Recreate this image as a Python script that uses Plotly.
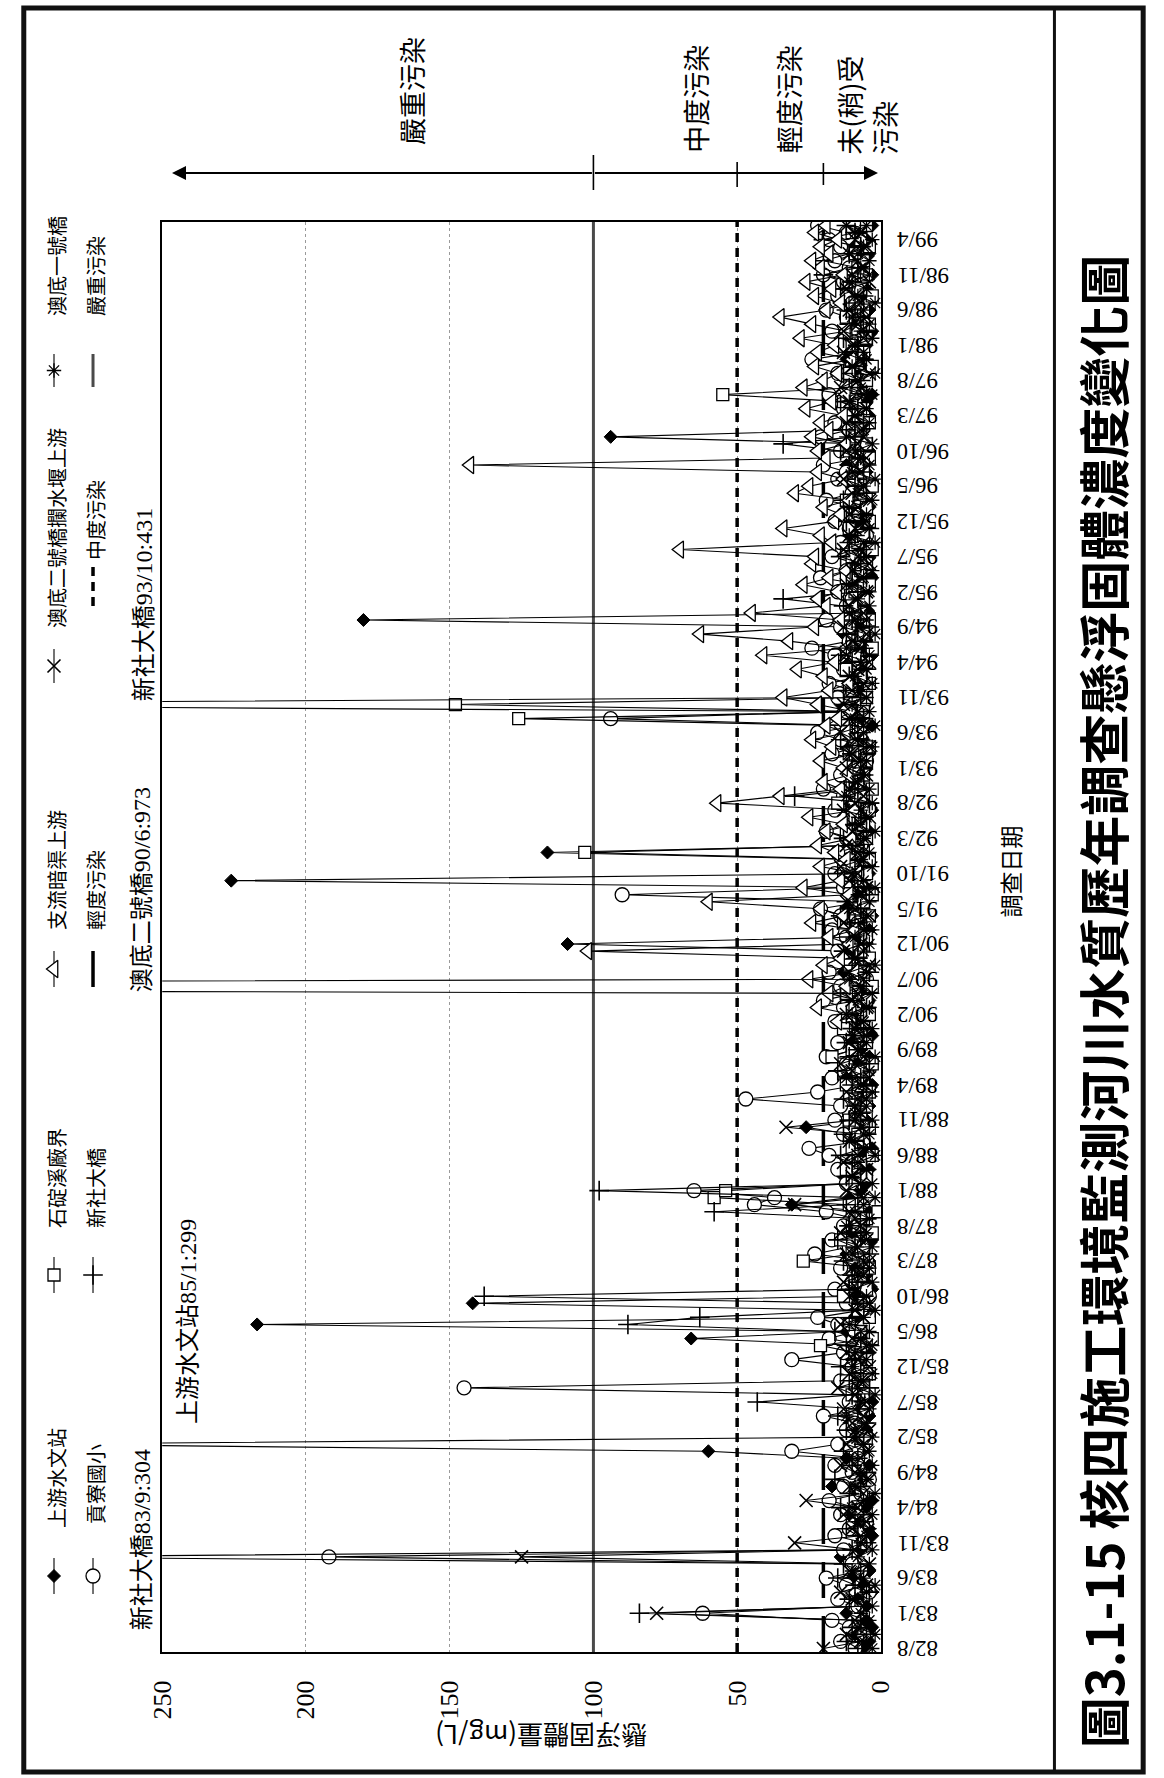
import plotly.graph_objects as go

W, H = 1164, 1778
CJK = "Noto Sans CJK TC"
SERIF = "Liberation Serif, Noto Sans CJK TC"

# ---- survey months (ROC calendar), one category per month: 82/8 ... 99/6 ----
months = []
yy, mm = 82, 8
while (yy, mm) <= (99, 6):
    months.append(f"{yy}/{mm}")
    yy, mm = (yy + 1, 1) if mm == 12 else (yy, mm + 1)
month_pos = list(range(len(months)))

tick_labels = ["82/8", "83/1", "83/6", "83/11", "84/4", "84/9", "85/2", "85/7",
               "85/12", "86/5", "86/10", "87/3", "87/8", "88/1", "88/6", "88/11",
               "89/4", "89/9", "90/2", "90/7", "90/12", "91/5", "91/10", "92/3",
               "92/8", "93/1", "93/6", "93/11", "94/4", "94/9", "95/2", "95/7",
               "95/12", "96/5", "96/10", "97/3", "97/8", "98/1", "98/6", "98/11",
               "99/4"]
value_ticks = [0, 50, 100, 150, 200, 250]

N_ = None
# ---- suspended solids (mg/L), one row per year ----
ss_shangyou = [
    6, 4, 9, 3, 5,
    12, 5, 8, 3, 6, 10, 4, 9, 14, 7, 5, 3,
    4, 7, 11, 5, 3, 8, 17, 6, 9, 4, 12, 60,
    299, 8, 5, 11, 4, 7, 3, 9, 6, 14, 5, 8,
    10, 4, 7, 66, 12, 217, 9, 5, 142, 8, 3, 6,
    5, 9, 4, 12, 7, 3, 10, 6, 8, 4, 31, 11,
    7, 5, 13, 4, 9, 6, 3, 8, 11, 26, 5, 10,
    4, 9, 6, 3, 12, 5, 8, 4, 7, 10, 3, 6,
    8, 5, 11, 4, 7, 3, 9, 13, 6, 4, 10, 109,
    7, 4, 9, 3, 12, 6, 8, 5, 226, 4, 7, 10,
    116, 6, 10, 4, 8, 5, 3, 11, 7, 4, 9, 6,
    5, 8, 4, 12, 6, 9, 3, 7, 10, 14, 5, 8,
    4, 9, 6, 11, 3, 7, 5, 13, 8, 180, 4, 6,
    10, 5, 8, 3, 12, 6, 4, 9, 7, 11, 5, 8,
    6, 4, 10, 7, 3, 9, 5, 12, 8, 4, 6, 94,
    7, 11, 4, 8, 5, 3, 10, 6, 9, 4, 12, 7,
    5, 8, 3, 10, 6, 4, 9, 7, 5, 11, 3, 8,
    6, 4, 9, 5, 7, 3,
]
ss_gongliao = [
    9, 14, 6, 11, 17,
    62, 8, 15, 4, 12, 19, 7, 10, 192, 13, 6, 16,
    11, 5, 14, 9, 18, 7, 13, 4, 10, 16, 8, 31,
    15, 6, 12, 9, 20, 5, 11, 8, 145, 14, 7, 10,
    31, 13, 6, 18, 9, 15, 22, 7, 12, 4, 16, 10,
    8, 14, 5, 23, 11, 17, 6, 13, 9, 19, 44, 37,
    65, 12, 7, 15, 10, 18, 25, 6, 13, 9, 16, 11,
    14, 47, 22, 8, 17, 5, 12, 19, 9, 15, 7, 11,
    16, 6, 13, 20, 9, 14, 5, 18, 11, 7, 15, 10,
    12, 17, 8, 14, 21, 6, 90, 13, 9, 16, 5, 11,
    15, 7, 12, 19, 10, 6, 16, 9, 13, 20, 8, 14,
    11, 5, 17, 8, 14, 22, 9, 94, 12, 6, 15, 10,
    18, 7, 13, 9, 16, 24, 11, 6, 14, 19, 8, 12,
    10, 15, 6, 21, 12, 8, 17, 9, 14, 5, 11, 16,
    13, 8, 19, 10, 6, 15, 12, 20, 7, 14, 9, 21,
    11, 16, 6, 13, 9, 18, 12, 7, 15, 10, 24, 8,
    14, 9, 17, 6, 12, 19, 10, 15, 8, 13, 20, 11,
    16, 9, 14, 18, 12, 22,
]
ss_shiding = [
    N_, N_, N_, N_, N_,
    N_, N_, N_, N_, N_, N_, N_, N_, N_, N_, N_, N_,
    N_, N_, N_, N_, N_, N_, N_, N_, N_, N_, N_, N_,
    N_, N_, N_, N_, N_, N_, N_, 10, 6, 12, 4, 8,
    5, 9, 21, 3, 7, 11, 4, 8, 6, 13, 5, 9,
    7, 4, 27, 10, 6, 14, 3, 8, 5, 1, 11, 58,
    54, 9, 5, 12, 7, 3, 10, 6, 8, 4, 11, 7,
    5, 9, 4, 12, 6, 8, 3, 17, 10, 5, 7, 13,
    6, 4, 9, 5, 12, 3, 8, 6, 11, 4, 7, 10,
    5, 8, 13, 4, 9, 6, 3, 11, 7, 5, 10, 4,
    103, 8, 5, 12, 6, 9, 4, 15, 7, 3, 10, 6,
    8, 5, 11, 4, 9, 7, 12, 126, 6, 148, 5, 10,
    4, 7, 12, 5, 9, 3, 8, 6, 11, 4, 7, 10,
    6, 9, 4, 12, 7, 5, 10, 3, 8, 6, 11, 4,
    9, 5, 12, 7, 3, 10, 6, 8, 4, 11, 5, 9,
    7, 4, 10, 6, 13, 55, 8, 5, 11, 3, 9, 6,
    10, 5, 8, 4, 12, 6, 9, 3, 7, 11, 5, 8,
    6, 9, 4, 7, 10, 5,
]
ss_xinshe = [
    8, 12, 5, 10, 7,
    84, 6, 11, 4, 9, 15, 7, 13, 304, 10, 5, 8,
    12, 6, 9, 14, 4, 11, 7, 16, 5, 10, 8, 13,
    6, 9, 12, 5, 15, 8, 43, 10, 4, 11, 7, 14,
    9, 5, 12, 7, 16, 88, 63, 10, 6, 138, 11, 8,
    10, 6, 13, 4, 9, 15, 7, 11, 5, 58, 12, 8,
    98, 7, 12, 5, 10, 14, 6, 9, 13, 4, 11, 7,
    9, 13, 5, 10, 7, 15, 4, 11, 8, 12, 6, 10,
    7, 12, 5, 9, 14, 6, 11, 4, 10, 8, 13, 6,
    11, 5, 9, 14, 7, 12, 4, 10, 8, 15, 6, 9,
    6, 10, 13, 5, 9, 7, 12, 4, 30, 8, 11, 6,
    12, 7, 10, 5, 14, 8, 11, 6, 9, 431, 7, 13,
    8, 11, 5, 10, 14, 6, 9, 12, 4, 10, 7, 13,
    34, 8, 12, 5, 10, 7, 14, 6, 11, 9, 4, 12,
    7, 10, 13, 5, 9, 12, 6, 11, 8, 14, 34, 9,
    12, 6, 10, 8, 14, 5, 11, 7, 13, 9, 6, 10,
    8, 13, 5, 11, 7, 12, 9, 6, 14, 10, 20, 8,
    20, 11, 7, 20, 9, 12,
]
ss_zhiliu = [
    N_, N_, N_, N_, N_,
    N_, N_, N_, N_, N_, N_, N_, N_, N_, N_, N_, N_,
    N_, N_, N_, N_, N_, N_, N_, N_, N_, N_, N_, N_,
    N_, N_, N_, N_, N_, N_, N_, N_, N_, N_, N_, N_,
    N_, N_, N_, N_, N_, N_, N_, N_, N_, N_, N_, N_,
    N_, N_, N_, N_, N_, N_, N_, N_, N_, N_, N_, N_,
    N_, N_, N_, N_, N_, N_, N_, N_, N_, N_, N_, N_,
    N_, N_, N_, N_, N_, N_, N_, N_, N_, N_, N_, N_,
    15, 10, 22, 8, 18, 12, 25, 9, 20, 14, 102, 11,
    18, 9, 24, 13, 21, 60, 11, 27, 14, 8, 21, 12,
    16, 22, 10, 19, 13, 25, 9, 57, 35, 14, 20, 11,
    13, 21, 9, 17, 24, 12, 19, 15, 10, 22, 34, 18,
    11, 20, 29, 16, 41, 12, 32, 63, 23, 14, 45, 19,
    22, 15, 27, 18, 12, 24, 23, 70, 17, 21, 34, 16,
    14, 20, 11, 30, 25, 13, 22, 143, 19, 22, 12, 24,
    18, 21, 13, 26, 17, 12, 27, 20, 15, 23, 10, 22,
    16, 28, 12, 24, 35, 19, 14, 23, 17, 26, 13, 21,
    24, 18, 21, 15, 23, 19,
]
ss_aodi2 = [
    20, 7, 12, 5, 9,
    78, 6, 10, 14, 5, 8, 11, 4, 125, 9, 30, 7,
    10, 5, 13, 8, 26, 6, 11, 4, 9, 14, 7, 5,
    12, 8, 4, 10, 6, 13, 5, 9, 15, 7, 11, 4,
    8, 12, 5, 10, 7, 14, 6, 9, 4, 11, 8, 13,
    6, 10, 4, 12, 8, 5, 14, 7, 9, 11, 30, 6,
    12, 7, 10, 5, 13, 8, 4, 11, 6, 33, 9, 7,
    9, 5, 12, 7, 4, 10, 14, 6, 8, 11, 5, 9,
    7, 12, 5, 10, 8, 973, 6, 11, 4, 9, 13, 7,
    10, 6, 13, 4, 9, 12, 7, 5, 11, 8, 14, 6,
    8, 12, 5, 10, 7, 4, 13, 9, 6, 11, 8, 5,
    12, 7, 10, 4, 9, 14, 6, 11, 8, 13, 5, 10,
    6, 11, 8, 4, 12, 7, 10, 5, 13, 9, 6, 11,
    9, 5, 12, 7, 10, 4, 8, 13, 6, 11, 9, 5,
    11, 8, 4, 10, 6, 13, 7, 9, 5, 12, 8, 6,
    7, 12, 9, 5, 11, 6, 14, 8, 4, 10, 7, 13,
    10, 6, 13, 8, 5, 11, 7, 9, 12, 4, 10, 6,
    8, 11, 5, 9, 7, 12,
]
ss_aodi1 = [
    3, 6, 2, 8, 4,
    7, 3, 9, 5, 2, 6, 10, 4, 8, 3, 7, 5,
    4, 8, 3, 10, 6, 2, 9, 5, 7, 3, 11, 4,
    6, 3, 9, 5, 12, 4, 7, 2, 8, 6, 3, 10,
    5, 9, 3, 7, 4, 11, 6, 2, 8, 5, 10, 3,
    8, 4, 6, 10, 3, 7, 5, 12, 4, 9, 6, 2,
    7, 3, 10, 5, 8, 2, 6, 11, 4, 7, 3, 9,
    5, 8, 3, 6, 12, 4, 9, 2, 7, 5, 10, 3,
    6, 10, 4, 8, 3, 7, 11, 5, 2, 9, 6, 4,
    9, 3, 7, 5, 11, 4, 8, 2, 6, 10, 3, 7,
    4, 8, 6, 2, 10, 5, 7, 3, 12, 4, 9, 6,
    7, 5, 11, 3, 8, 6, 2, 9, 4, 10, 5, 8,
    3, 9, 5, 7, 4, 12, 6, 2, 8, 5, 11, 4,
    8, 4, 10, 6, 3, 9, 5, 7, 2, 11, 4, 6,
    5, 11, 3, 8, 6, 2, 10, 4, 7, 9, 3, 12,
    6, 4, 9, 5, 11, 3, 7, 8, 2, 10, 5, 6,
    9, 3, 7, 4, 10, 6, 2, 8, 5, 11, 4, 7,
    4, 8, 6, 3, 9, 5,
]

# pollution class limits (mg/L)
thresholds = [20, 50, 100]
threshold_names = ["輕度污染", "中度污染", "嚴重污染"]

LW = 1.3
series = [
    ("上游水文站", ss_shangyou, dict(symbol="diamond", size=10, color="black",
                                 line=dict(color="black", width=1))),
    ("貢寮國小", ss_gongliao, dict(symbol="circle", size=14, color="white",
                               line=dict(color="black", width=LW))),
    ("石碇溪廠界", ss_shiding, dict(symbol="square", size=12, color="white",
                                line=dict(color="black", width=LW))),
    ("新社大橋", ss_xinshe, dict(symbol="cross-thin", size=14, color="black",
                             line=dict(color="black", width=1.6))),
    ("支流暗渠上游", ss_zhiliu, dict(symbol="triangle-left", size=15, color="white",
                                line=dict(color="black", width=LW))),
    ("澳底二號橋攔水堰上游", ss_aodi2, dict(symbol="x-thin", size=13, color="black",
                                   line=dict(color="black", width=1.6))),
    ("澳底一號橋", ss_aodi1, dict(symbol="asterisk", size=12, color="black",
                              line=dict(color="black", width=1.3))),
]
threshold_styles = [
    dict(color="black", width=3.5, dash="36px,18px"),
    dict(color="black", width=3.5, dash="9px,6px"),
    dict(color="#4a4a4a", width=3),
]

fig = go.Figure()

# class limit lines across the whole period
for lim, name, st in zip(thresholds, threshold_names, threshold_styles):
    fig.add_trace(go.Scatter(x=[lim, lim], y=[-0.5, len(months) - 0.5], mode="lines",
                             name=name, line=st, hoverinfo="skip"))

for name, vals, mk in series:
    fig.add_trace(go.Scatter(x=vals, y=month_pos, mode="lines+markers", name=name,
                             line=dict(color="black", width=1.1), marker=mk,
                             connectgaps=False, cliponaxis=True,
                             customdata=months,
                             hovertemplate="%{customdata}: %{x}<extra>" + name + "</extra>"))

# ---- hand-placed legend (vertical samples, text read bottom-to-top) ----
legend_layout = [
    # name, column x, sample top, sample bottom, text bottom
    ("上游水文站", 40, 1558, 1594, 1530),
    ("石碇溪廠界", 40, 1257, 1293, 1230),
    ("支流暗渠上游", 40, 951, 987, 932),
    ("澳底二號橋攔水堰上游", 40, 649, 683, 630),
    ("澳底一號橋", 40, 354, 387, 318),
    ("貢寮國小", 80, 1558, 1594, 1526),
    ("新社大橋", 80, 1257, 1293, 1230),
    ("輕度污染", 80, 951, 987, 932),
    ("中度污染", 80, 567, 608, 562),
    ("嚴重污染", 80, 354, 387, 318),
]
markers = {n: m for n, _, m in series}
thr_style = dict(zip(threshold_names, threshold_styles))

annotations = []


def note(text, x, y, size, angle=-90, family=CJK, xanchor="center", yanchor="bottom",
         xref="x2", yref="y2", **kw):
    annotations.append(dict(text=text, x=x, y=y, xref=xref, yref=yref, showarrow=False,
                            textangle=angle, xanchor=xanchor, yanchor=yanchor,
                            font=dict(family=family, size=size, color="black"), **kw))


for name, cx, top, bot, tb in legend_layout:
    if name in markers:
        fig.add_trace(go.Scatter(x=[cx, cx], y=[top, bot], xaxis="x2", yaxis="y2",
                                 mode="lines", line=dict(color="black", width=1.1),
                                 hoverinfo="skip", showlegend=False))
        fig.add_trace(go.Scatter(x=[cx], y=[(top + bot) / 2], xaxis="x2", yaxis="y2",
                                 mode="markers", marker=markers[name],
                                 hoverinfo="skip", showlegend=False))
    else:
        fig.add_trace(go.Scatter(x=[cx, cx], y=[top, bot], xaxis="x2", yaxis="y2",
                                 mode="lines", line=thr_style[name],
                                 hoverinfo="skip", showlegend=False))
    note(name, cx + 2, tb, 20)

# ---- month labels, printed upside down beside the date axis ----
for lbl in tick_labels:
    note(lbl, 903 / W, months.index(lbl), 23, angle=180, family="Liberation Serif",
         xanchor="left", yanchor="middle", xref="paper", yref="y")

# ---- peak values beyond the axis maximum ----
peaks = [("新社大橋", ss_xinshe, "83/9", 130, 1632),
         ("上游水文站", ss_shangyou, "85/1", 177, 1426),
         ("澳底二號橋", ss_aodi2, "90/6", 130, 994),
         ("新社大橋", ss_xinshe, "93/10", 132, 703)]
for label, vals, m, px, py in peaks:
    note(f"{label}{m}:{vals[months.index(m)]}", px, py, 24, family=SERIF)

# ---- pollution class scale above the plot ----
note("嚴重污染", 406, 147, 27)
note("中度污染", 697, 155, 27)
note("輕度污染", 793, 155, 27)
note("未(稍)受<br>污染", 873, 157, 27, align="left")

annotations.append(dict(x=246.6, y=173, ax=100, ay=173, xref="x", yref="y2",
                        axref="x", ayref="y2", showarrow=True, arrowhead=2,
                        arrowsize=1.4, arrowwidth=2, arrowcolor="black", text=""))
annotations.append(dict(x=1.0, y=173, ax=100, ay=173, xref="x", yref="y2",
                        axref="x", ayref="y2", showarrow=True, arrowhead=2,
                        arrowsize=1.4, arrowwidth=2, arrowcolor="black", text=""))

shapes = []
for lim, (y0, y1) in zip(thresholds, [(163, 185), (162, 187), (155, 190)]):
    shapes.append(dict(type="line", xref="x", yref="y2", x0=lim, x1=lim, y0=y0, y1=y1,
                       line=dict(color="black", width=1.6)))

# ---- axis titles ----
note("調查日期", 1020, 872, 23, yanchor="middle")
note("懸浮固體量(mg/L)", 540, 1737, 26, angle=180, yanchor="middle")

# ---- figure caption ----
note("<b>圖3.1-15 核四施工環境監測河川水質歷年調查懸浮固體濃度變化圖</b>",
     1115, 1002, 51, yanchor="middle")

# page frame
shapes.append(dict(type="rect", xref="x2", yref="y2", x0=9, x1=1157, y0=8, y1=1772,
                   line=dict(color="#111", width=5)))
shapes.append(dict(type="line", xref="x2", yref="y2", x0=1066, x1=1066, y0=8, y1=1772,
                   line=dict(color="#111", width=3)))

fig.update_layout(
    width=W, height=H, margin=dict(l=0, r=0, t=0, b=0),
    paper_bgcolor="white", plot_bgcolor="rgba(0,0,0,0)", showlegend=False,
    xaxis=dict(domain=[151 / W, 888 / W], range=[250, 0], tickvals=value_ticks,
               tickangle=-90, tickfont=dict(family="Liberation Serif", size=26, color="black"),
               showgrid=True, gridcolor="#9a9a9a", griddash="dot", gridwidth=1,
               showline=True, mirror=True, linecolor="black", linewidth=2,
               zeroline=False, ticks="", ticklabelstandoff=16, anchor="y"),
    yaxis=dict(domain=[1 - 1652 / H, 1 - 222 / H], range=[-0.5, len(months) - 0.5],
               tickvals=[months.index(t) for t in tick_labels], showticklabels=False,
               showgrid=False, showline=True, mirror=True, linecolor="black", linewidth=2,
               zeroline=False, ticks="", anchor="x"),
    xaxis2=dict(domain=[0, 1], range=[0, W], visible=False, anchor="y2", fixedrange=True),
    yaxis2=dict(domain=[0, 1], range=[H, 0], visible=False, anchor="x2", fixedrange=True),
    annotations=annotations, shapes=shapes,
)

fig.write_html("out.html")
